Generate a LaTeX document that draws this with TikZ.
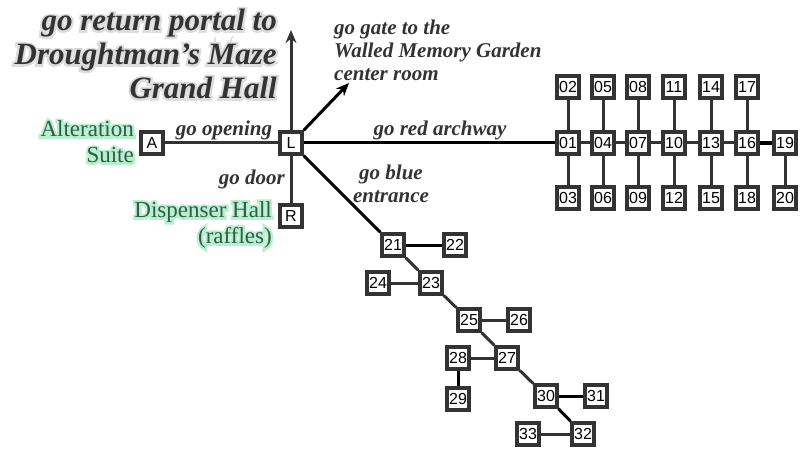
\documentclass[tikz,border=0pt]{standalone}
\usepackage{fontspec}
\setmainfont{Liberation Serif}
\newfontfamily\sansf{Liberation Sans}
\newfontfamily\glowserif{Liberation Serif}[FakeBold=20]
\newfontfamily\shadowserif{Liberation Serif}[FakeBold=14]
\usetikzlibrary{arrows.meta}
\definecolor{boxgray}{HTML}{333333}
\definecolor{greentext}{HTML}{2F5E48}
\definecolor{greenglow}{HTML}{B8EFCF}
\definecolor{shadowgray}{HTML}{DDDDDD}
\begin{document}
\begin{tikzpicture}[x=1pt,y=-1pt,
 room/.style={draw=boxgray,line width=3.4pt,fill=white,minimum width=22pt,minimum height=22pt,inner sep=0pt,font=\sansf\fontsize{16}{16}\selectfont},
 lab/.style={font=\bfseries\itshape\fontsize{21}{23}\selectfont,text=boxgray,inner sep=0pt},
 ttl/.style={font=\bfseries\itshape\fontsize{31}{34}\selectfont,text=boxgray,inner sep=0pt,align=right},
 ttlshadow/.style={font=\shadowserif\bfseries\itshape\fontsize{31}{34}\selectfont,text=shadowgray,inner sep=0pt,align=right},
 greenlab/.style={font=\fontsize{23}{26}\selectfont,text=greentext,inner sep=0pt},
 glowlab/.style={font=\glowserif\fontsize{23}{26}\selectfont,text=greenglow,inner sep=0pt},
 lnk/.style={line width=3pt,draw=boxgray},
 blnk/.style={line width=3pt,draw=black},
 tip/.style={-{Stealth[length=13pt,width=11pt]}},
]
\fill[white] (0,0) rectangle (800,449);
\useasboundingbox (0,0) rectangle (800,449);

% texts
\node[ttlshadow,anchor=east] (titleshadow) at (277,54) {go return portal to\\Droughtman's Maze\\Grand Hall};
\node[ttl,anchor=east] (title) at (277,54) {go return portal to\\Droughtman's Maze\\Grand Hall};
\node[lab,anchor=west,align=left] (gatetxt) at (334,50) {go gate to the\\Walled Memory Garden\\center room};

\node[glowlab,anchor=east,align=right] (altglow) at (134,142) {Alteration\\Suite};
\node[greenlab,anchor=east,align=right] (alt) at (134,142) {Alteration\\Suite};

\node[glowlab,anchor=east,align=right] (dispglow) at (272,225) {Dispenser Hall\\(raffles)};
\node[greenlab,anchor=east,align=right] (disp) at (272,225) {Dispenser Hall\\(raffles)};

\node[lab] (lopen) at (224,130) {go opening};
\node[lab] (lred) at (440,130) {go red archway};
\node[lab,anchor=east] (ldoor) at (285,179) {go door};
\node[lab,align=center] (lblue) at (391,184) {go blue\\entrance};

% rooms
\node[room] (A) at (152,143) {A};
\node[room] (L) at (291,143) {L};
\node[room] (R) at (291,216) {R};

\node[room] (n01) at (568,143) {01};
\node[room] (n02) at (568,87) {02};
\node[room] (n03) at (568,198) {03};
\node[room] (n04) at (603,143) {04};
\node[room] (n05) at (603,87) {05};
\node[room] (n06) at (603,198) {06};
\node[room] (n07) at (638,143) {07};
\node[room] (n08) at (638,87) {08};
\node[room] (n09) at (638,198) {09};
\node[room] (n10) at (674,143) {10};
\node[room] (n11) at (674,87) {11};
\node[room] (n12) at (674,198) {12};
\node[room] (n13) at (711,143) {13};
\node[room] (n14) at (711,87) {14};
\node[room] (n15) at (711,198) {15};
\node[room] (n16) at (747,143) {16};
\node[room] (n17) at (747,87) {17};
\node[room] (n18) at (747,198) {18};
\node[room] (n19) at (785,143) {19};
\node[room] (n20) at (785,198) {20};

\node[room] (n21) at (393,245) {21};
\node[room] (n22) at (455,245) {22};
\node[room] (n23) at (431,283) {23};
\node[room] (n24) at (378,283) {24};
\node[room] (n25) at (469,320) {25};
\node[room] (n26) at (519,320) {26};
\node[room] (n27) at (507,358) {27};
\node[room] (n28) at (458,358) {28};
\node[room] (n29) at (458,399) {29};
\node[room] (n30) at (546,396) {30};
\node[room] (n31) at (596,396) {31};
\node[room] (n32) at (583,434) {32};
\node[room] (n33) at (528,434) {33};

\coordinate (up) at (291,30);
\coordinate (gate) at (349,83);

% connectors
\draw[lnk] (A) -- (L);
\draw[lnk] (L) -- (R);
\draw[lnk,tip] (L) -- (up);
\draw[blnk,tip] (L.north east) -- (gate);
\draw[blnk] (L) -- (n01);
\draw[blnk] (L) -- (n21);

\foreach \a/\b in {01/04,04/07,07/10,10/13,13/16,
  01/02,01/03,04/05,04/06,07/08,07/09,10/11,10/12,13/14,13/15,16/17,16/18,19/20}
  \draw[lnk] (n\a) -- (n\b);
\draw[blnk,line width=3.5pt] (n16) -- (n19);

\draw[blnk] (n21) -- (n22);
\draw[lnk] (n21) -- (n23);
\draw[lnk] (n24) -- (n23);
\draw[lnk] (n23) -- (n25);
\draw[lnk] (n25) -- (n26);
\draw[lnk] (n25) -- (n27);
\draw[lnk] (n28) -- (n27);
\draw[blnk] (n28) -- (n29);
\draw[lnk] (n27) -- (n30);
\draw[blnk] (n30) -- (n31);
\draw[blnk] (n30) -- (n32);
\draw[lnk] (n33) -- (n32);
\end{tikzpicture}
\end{document}
